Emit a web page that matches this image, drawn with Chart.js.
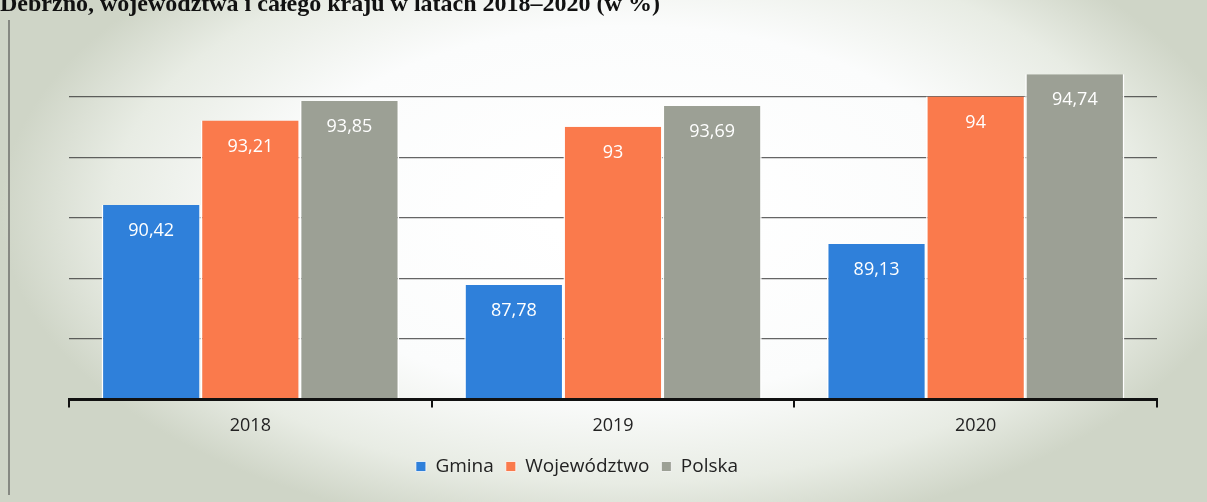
<!DOCTYPE html>
<html>
<head>
<meta charset="utf-8">
<script src="https://cdn.jsdelivr.net/npm/chart.js@4"></script>
<style>
  html, body { margin: 0; padding: 0; background: #ffffff; }
  #wrap { width: 1207px; height: 502px; }
</style>
</head>
<body>
<div id="wrap"><canvas id="chart" width="1207" height="502"></canvas></div>
<script>
const years = ['2018', '2019', '2020'];
const gmina = [90.42, 87.78, 89.13];
const wojewodztwo = [93.21, 93, 94];
const polska = [93.85, 93.69, 94.74];
const seriesNames = ['Gmina', 'Województwo', 'Polska'];
const titleText = 'Debrzno, województwa i całego kraju w latach 2018–2020 (w %)';

const fmt = v => String(v).replace('.', ',');

// paper background of the scan: light centre, greyish-green edges
const paperBg = {
  id: 'paperBg',
  beforeDraw(chart) {
    const { ctx, width, height } = chart;
    ctx.save();
    ctx.fillStyle = '#cfd5c7';
    ctx.fillRect(0, 0, width, height);
    ctx.translate(width * 0.52, height * 0.42);
    ctx.scale(1.9, 1);
    const g = ctx.createRadialGradient(0, 0, 40, 0, 0, 330);
    g.addColorStop(0, '#ffffff');
    g.addColorStop(0.5, '#fbfcfc');
    g.addColorStop(0.8, '#e8ece4');
    g.addColorStop(1, '#cfd5c7');
    ctx.fillStyle = g;
    ctx.fillRect(-width, -height, width * 2, height * 2);
    ctx.restore();

    ctx.save();
    // frame line on the left
    ctx.strokeStyle = 'rgba(70,70,70,0.7)';
    ctx.lineWidth = 1.5;
    ctx.beginPath();
    ctx.moveTo(9, 20);
    ctx.lineTo(9, 495);
    ctx.stroke();
    // title, cut at the top like the scan
    ctx.fillStyle = '#111';
    ctx.font = 'bold 24px "Liberation Serif", serif';
    ctx.textBaseline = 'alphabetic';
    ctx.textAlign = 'left';
    ctx.fillText(titleText, 0, 11);
    ctx.restore();
  }
};

const valueLabels = {
  id: 'valueLabels',
  afterLayout(chart) {
    // legend sits a bit left of centre in the original
    chart.legend.left -= 36;
    chart.legend.right -= 36;
  },
  afterDatasetsDraw(chart) {
    const { ctx, chartArea } = chart;
    ctx.save();
    // axis line drawn over the bars
    ctx.strokeStyle = '#111';
    ctx.lineWidth = 3;
    ctx.beginPath();
    ctx.moveTo(chartArea.left - 1, chartArea.bottom);
    ctx.lineTo(chartArea.right + 1, chartArea.bottom);
    ctx.stroke();

    ctx.fillStyle = '#ffffff';
    ctx.font = '18px "Open Sans", sans-serif';
    ctx.textAlign = 'center';
    ctx.textBaseline = 'middle';
    chart.data.datasets.forEach((ds, i) => {
      chart.getDatasetMeta(i).data.forEach((bar, j) => {
        ctx.fillText(fmt(ds.data[j]), bar.x, bar.y + 26);
      });
    });
    ctx.restore();
  }
};

new Chart(document.getElementById('chart'), {
  type: 'bar',
  data: {
    labels: years,
    datasets: [
      { label: seriesNames[0], data: gmina, backgroundColor: '#2f80da' },
      { label: seriesNames[1], data: wojewodztwo, backgroundColor: '#fa7a4c' },
      { label: seriesNames[2], data: polska, backgroundColor: '#9ca095' }
    ].map(d => Object.assign(d, {
      borderColor: '#ffffff',
      borderWidth: { left: 1.5, right: 1.5, top: 0, bottom: 0 },
      borderSkipped: false,
      categoryPercentage: 0.82,
      barPercentage: 1
    }))
  },
  options: {
    responsive: false,
    animation: false,
    layout: { padding: { left: 69, right: 50, top: 36, bottom: 16 } },
    scales: {
      x: {
        grid: { display: true, drawOnChartArea: false, drawTicks: true, tickLength: 8, color: '#111', lineWidth: 2 },
        border: { display: true, color: '#111', width: 3 },
        ticks: { color: '#222', font: { size: 18, family: '"Open Sans", sans-serif' }, padding: 8 }
      },
      y: {
        min: 84,
        max: 96,
        ticks: { display: false, stepSize: 2 },
        border: { display: false },
        grid: {
          drawTicks: false,
          lineWidth: 1.2,
          color: c => (c.tick.value === 84 || c.tick.value === 96) ? 'rgba(0,0,0,0)' : 'rgba(50,50,50,0.75)'
        }
      }
    },
    plugins: {
      legend: {
        position: 'bottom',
        labels: {
          color: '#222',
          font: { size: 19, family: '"Open Sans", sans-serif' },
          boxWidth: 10,
          boxHeight: 10,
          padding: 12
        }
      },
      tooltip: { enabled: false }
    }
  },
  plugins: [paperBg, valueLabels]
});
</script>
</body>
</html>
